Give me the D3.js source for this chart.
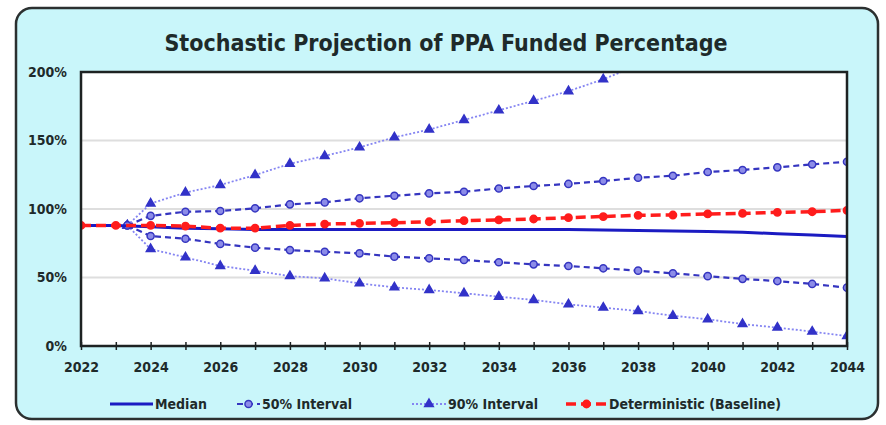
<!DOCTYPE html>
<html>
<head>
<meta charset="utf-8">
<script src="https://cdn.jsdelivr.net/npm/d3@7"></script>
<style>
  body { margin: 0; background: #fff; }
  svg text { font-family: "Liberation Sans Narrow", "DejaVu Sans Condensed", "Arial Narrow", sans-serif; font-weight: bold; fill: #1e2a2a; }
</style>
</head>
<body>
<div id="chart"></div>
<script>
var WIDTH = 886, HEIGHT = 425;

// data (percent funded)
var years = d3.range(2022, 2045);
var medianVals = [88, 88, 87, 86, 85.5, 85, 85, 85, 85, 85, 85, 85, 85, 85, 85, 84.7, 84.3, 84, 83.5, 83, 82, 81, 80];
var baselineVals = [88, 88, 88, 87.5, 86, 86, 88, 89, 89.5, 90, 90.7, 91.5, 92, 92.7, 93.7, 94.5, 95.4, 95.6, 96.4, 96.8, 97.6, 98, 99];
var intervalYears = [2023.33].concat(d3.range(2024, 2045));
var p50High = [88, 95, 98, 98.5, 100.5, 103.4, 104.8, 107.8, 109.7, 111.4, 112.6, 115, 116.8, 118.3, 120.4, 122.8, 124.3, 127, 128.5, 130.4, 132.6, 134.5];
var p50Low = [88, 80.3, 78.3, 74.5, 71.8, 70, 68.8, 67.6, 65.2, 64, 62.8, 61.1, 59.6, 58.4, 56.7, 55, 53, 51, 49, 47.4, 45.3, 42.6];
var p90High = [88, 104, 112, 117.5, 124.8, 133, 138.7, 145, 152.3, 158, 165, 172, 179, 186, 194.7, 205];
var p90Low = [88, 70.8, 64.7, 58.4, 55, 51, 49.4, 45.7, 42.8, 40.9, 38.5, 36, 33.6, 30.4, 28, 25.5, 22.1, 19.5, 16, 13.4, 10.5, 7.3];
var yTicks = [0, 50, 100, 150, 200];
var xLabelYears = d3.range(2022, 2045, 2);
var legendLabels = ["Median", "50% Interval", "90% Interval", "Deterministic (Baseline)"];

var margin = {top: 72, right: 39, bottom: 79, left: 81};

var svg = d3.select("#chart").append("svg")
    .attr("width", WIDTH)
    .attr("height", HEIGHT);

// outer rounded panel
svg.append("rect")
    .attr("x", 16).attr("y", 8)
    .attr("width", 862).attr("height", 411)
    .attr("rx", 16).attr("ry", 16)
    .style("fill", "#c9f6fa")
    .style("stroke", "#2b3030")
    .style("stroke-width", 2.5);

svg.append("text")
    .attr("x", 446).attr("y", 51)
    .style("text-anchor", "middle")
    .style("font-size", "23px")
    .text("Stochastic Projection of PPA Funded Percentage");

var w = WIDTH - margin.left - margin.right;
var h = HEIGHT - margin.top - margin.bottom;

var g = svg.append("g")
    .attr("transform", "translate(" + margin.left + "," + margin.top + ")");

var xScale = d3.scaleLinear().domain([2022, 2044]).range([0, w]);
var yScale = d3.scaleLinear().domain([0, 200]).range([h, 0]);

g.append("rect")
    .attr("width", w).attr("height", h)
    .style("fill", "#fff");

g.append("defs").append("clipPath").attr("id", "clip")
  .append("rect").attr("width", w).attr("height", h);

// grid
g.append("g").selectAll("line")
  .data([50, 100, 150])
  .enter().append("line")
    .attr("x1", 0).attr("x2", w)
    .attr("y1", d => yScale(d)).attr("y2", d => yScale(d))
    .style("stroke", "#dedede")
    .style("stroke-width", 2);

var line = d3.line()
    .x(d => xScale(d[0]))
    .y(d => yScale(d[1]));

var plot = g.append("g").attr("clip-path", "url(#clip)");

function pairs(xs, vs) { return vs.map((v, i) => [xs[i], v]); }

function drawSeries(data, s) {
  plot.append("path")
    .attr("d", line(data))
    .style("fill", "none")
    .style("stroke", s.stroke)
    .style("stroke-width", s.width)
    .style("stroke-dasharray", s.dash);
  if (!s.marker) return;
  plot.append("g").selectAll("path")
    .data(data)
    .enter().append("path")
      .attr("transform", d => "translate(" + xScale(d[0]) + "," + yScale(d[1]) + ")")
      .attr("d", d3.symbol().type(s.marker).size(s.size))
      .style("fill", s.fill)
      .style("stroke", s.mstroke)
      .style("stroke-width", 1.5);
}

var sty90 = {stroke: "#8585f2", width: 1.8, dash: "2,2", marker: d3.symbolTriangle, size: 32, fill: "#3232c8", mstroke: "#3232c8"};
var sty50 = {stroke: "#3535c0", width: 2.2, dash: "6,4", marker: d3.symbolCircle, size: 40, fill: "#8c8ce8", mstroke: "#3535c0"};
var styMed = {stroke: "#1b1bc2", width: 3, dash: null};
var styBase = {stroke: "#ff1c1c", width: 3.5, dash: "10,5", marker: d3.symbolCircle, size: 42, fill: "#ff1c1c", mstroke: "#ff1c1c"};

drawSeries(pairs(intervalYears, p90High), sty90);
drawSeries(pairs(intervalYears, p90Low), sty90);
drawSeries(pairs(intervalYears, p50High), sty50);
drawSeries(pairs(intervalYears, p50Low), sty50);
drawSeries(pairs(years, medianVals), styMed);
drawSeries(pairs(years, baselineVals), styBase);

// frame
g.append("rect")
    .attr("width", w).attr("height", h)
    .style("fill", "none")
    .style("stroke", "#1d2222")
    .style("stroke-width", 2.5);

// axes
var xAxis = g.append("g")
    .attr("transform", "translate(0," + h + ")")
    .call(d3.axisBottom(xScale).tickValues(years).tickSize(4).tickPadding(12)
      .tickFormat(d => xLabelYears.indexOf(d) >= 0 ? d : ""))
    .call(g => g.select(".domain").remove());
xAxis.selectAll(".tick line").attr("y1", -4).attr("y2", 4).style("stroke", "#1d2222").style("stroke-width", 1.5);
xAxis.selectAll("text").style("font-size", "14px").style("font-family", null).style("fill", null);

var yAxis = g.append("g")
    .call(d3.axisLeft(yScale).tickValues(yTicks).tickSize(0).tickPadding(14)
      .tickFormat(d => d + "%"))
    .call(g => g.select(".domain").remove());
yAxis.selectAll("text").style("font-size", "14px").style("font-family", null).style("fill", null);

// legend
var legendX = [110, 237, 412, 566];
var sampleLen = [43, 23, 34, 41];
var legendStyles = [styMed, sty50, sty90, styBase];
var leg = svg.append("g").attr("transform", "translate(0,404)");
legendLabels.forEach(function(lab, i) {
  var s = legendStyles[i];
  var x0 = legendX[i], x1 = legendX[i] + sampleLen[i];
  leg.append("line")
    .attr("x1", x0).attr("x2", x1)
    .style("stroke", s.stroke)
    .style("stroke-width", s.width)
    .style("stroke-dasharray", s.dash);
  if (s.marker) {
    leg.append("path")
      .attr("transform", "translate(" + (x0 + x1) / 2 + ",0)")
      .attr("d", d3.symbol().type(s.marker).size(s.size))
      .style("fill", s.fill)
      .style("stroke", s.mstroke)
      .style("stroke-width", 1.5);
  }
  leg.append("text")
    .attr("x", x1 + 2)
    .attr("dy", "0.35em")
    .style("font-size", "14px")
    .text(lab);
});
</script>
</body>
</html>
